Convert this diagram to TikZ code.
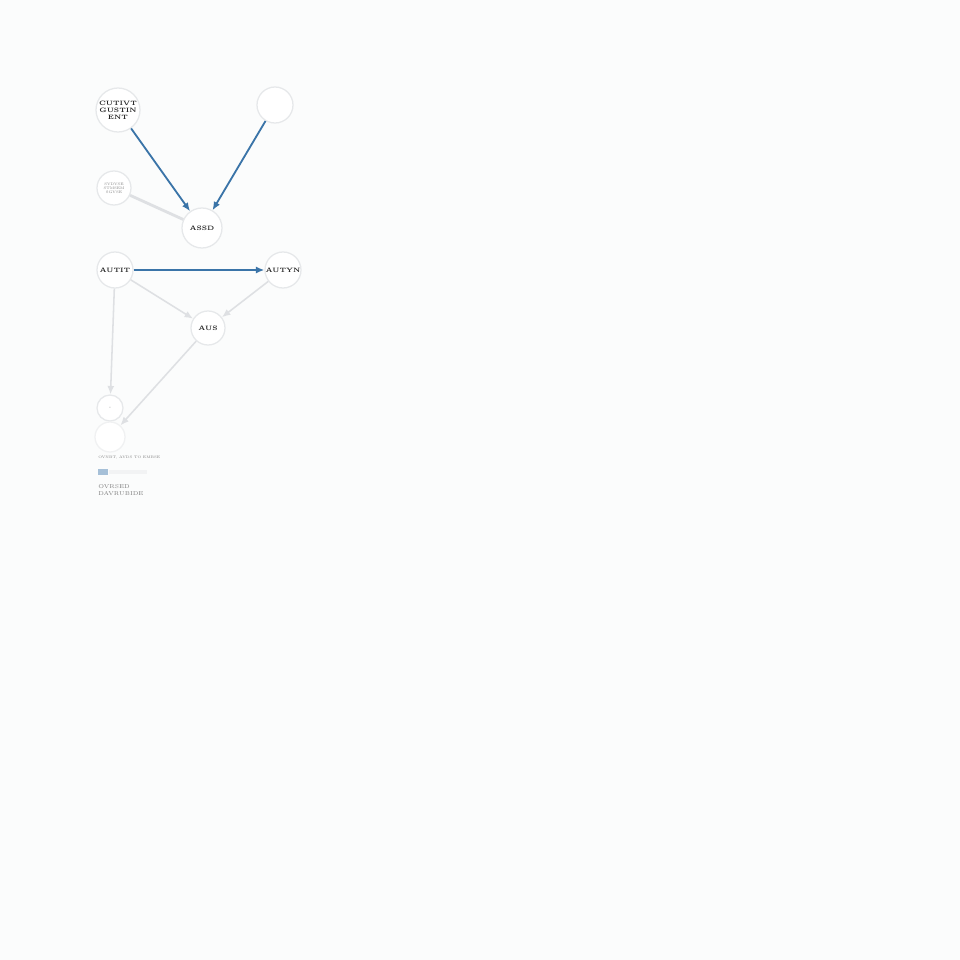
\documentclass[tikz,border=0pt]{standalone}
\usetikzlibrary{arrows.meta}
\definecolor{bg}{HTML}{FBFCFC}
\definecolor{ring}{HTML}{E6E8EA}
\definecolor{blu}{HTML}{3A74A8}
\definecolor{lgray}{HTML}{DEE0E3}
\definecolor{txt}{HTML}{222222}
\tikzset{
  circ/.style={circle, draw=ring, line width=0.9pt, fill=white, inner sep=0pt, text=txt, align=center, font=\fontsize{4.5}{5}\selectfont\bfseries},
  bluearrow/.style={draw=blu, line width=1.3pt, -{Latex[length=6pt,width=5pt]}},
  grayarrow/.style={draw=lgray, line width=1.1pt, -{Latex[length=6pt,width=5pt]}},
  grayline/.style={draw=lgray, line width=2pt},
}
\begin{document}
\begin{tikzpicture}[x=0.25mm,y=-0.25mm]
\fill[bg] (0,0) rectangle (960,960);
\useasboundingbox (0,0) rectangle (960,960);
% nodes
\node[circ, minimum size=44*0.25mm] (A) at (118,110) {CUTIVT\\GUSTIN\\ENT};
\node[circ, minimum size=36*0.25mm] (B) at (275,105) {};
\node[circ, minimum size=34*0.25mm, font=\fontsize{2.6}{3}\selectfont, text=gray] (C) at (114,188) {SVDVSE\\STMSEM\\SGVSE};
\node[circ, minimum size=40*0.25mm] (D) at (202,228) {ASSD};
\node[circ, minimum size=36*0.25mm] (E) at (115,270) {AUTIT};
\node[circ, minimum size=36*0.25mm] (F) at (283,270) {AUTYN};
\node[circ, minimum size=34*0.25mm] (G) at (208,328) {AUS};
\node[circ, minimum size=26*0.25mm, font=\fontsize{3}{3}\selectfont, text=gray] (H) at (110,408) {-};
\node[circ, minimum size=30*0.25mm, draw=ring!60] (I) at (110,437) {};
% edges
\draw[grayline] (C) -- (D);
\draw[bluearrow] (A) -- (D);
\draw[bluearrow] (B) -- (D);
\draw[bluearrow] (E) -- (F);
\draw[grayarrow] (E) -- (G);
\draw[grayarrow] (F) -- (G);
\draw[grayarrow] (E) -- (H);
\draw[grayarrow] (G) -- (I);
% legend
\node[anchor=west, inner sep=0pt, text=gray, font=\fontsize{2.6}{3}\selectfont] (L1) at (98,458) {OVNBT, AVDS TO EMBSE};
\node[anchor=west, inner sep=0pt, minimum width=10*0.25mm, minimum height=6*0.25mm, fill=blu!45] (L2) at (98,472) {};
\node[anchor=west, inner sep=0pt, minimum width=38*0.25mm, minimum height=4*0.25mm, fill=ring!50] (L3) at (109,472) {};
\node[anchor=west, inner sep=0pt, text=gray, align=left, font=\fontsize{4}{4.6}\selectfont] (L4) at (98,490) {OVRSED\\DAVRUBIDE};
\end{tikzpicture}
\end{document}
